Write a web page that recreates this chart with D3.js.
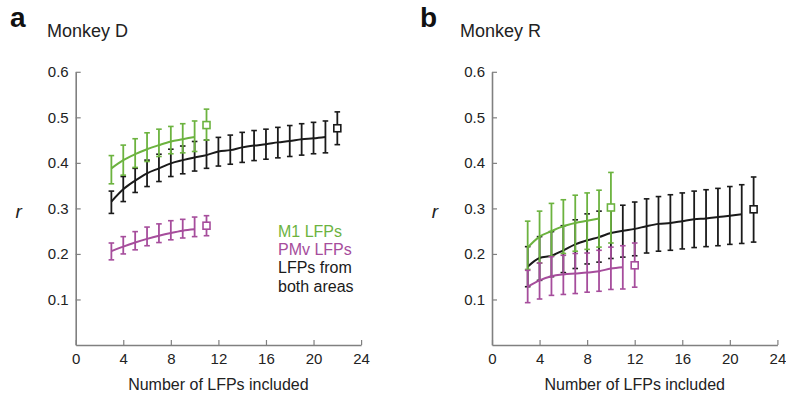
<!DOCTYPE html>
<html><head><meta charset="utf-8">
<script src="https://cdn.jsdelivr.net/npm/d3@7"></script>
<style>
body{margin:0;background:#fff;}
text{font-family:"Liberation Sans",Arial,sans-serif;}
</style></head>
<body><svg id="c" width="786" height="398"></svg>
<script>
// ---- data ----
const xTicks = [0,4,8,12,16,20,24];
const yTicks = [0.1,0.2,0.3,0.4,0.5,0.6];
const panelLetters = ["a","b"];
const panelTitles = ["Monkey D","Monkey R"];
const legendLabels = ["M1 LFPs","PMv LFPs","LFPs from","both areas"];

// Panel a (Monkey D)
const nBothA = [3,4,5,6,7,8,9,10,11,12,13,14,15,16,17,18,19,20,21];
const rBothA = [0.315,0.342,0.361,0.377,0.388,0.399,0.406,0.412,0.417,0.425,0.428,0.434,0.438,0.441,0.445,0.448,0.452,0.454,0.457];
const hiBothA = [0.338,0.370,0.388,0.406,0.419,0.430,0.437,0.447,0.450,0.456,0.461,0.467,0.471,0.474,0.478,0.482,0.486,0.489,0.492];
const loBothA = [0.289,0.315,0.335,0.348,0.359,0.370,0.376,0.382,0.388,0.393,0.397,0.401,0.405,0.408,0.411,0.414,0.417,0.420,0.422];
const sqBothA = {n:22, r:0.476, hi:0.512, lo:0.440};

const nM1A = [3,4,5,6,7,8,9,10];
const rM1A = [0.388,0.406,0.419,0.430,0.439,0.447,0.452,0.457];
const hiM1A = [0.416,0.439,0.453,0.466,0.474,0.480,0.486,0.492];
const loM1A = [0.354,0.373,0.390,0.403,0.414,0.420,0.422,0.425];
const sqM1A = {n:11, r:0.483, hi:0.518, lo:0.450};

const nPMvA = [3,4,5,6,7,8,9,10];
const rPMvA = [0.206,0.216,0.225,0.233,0.240,0.246,0.251,0.254];
const hiPMvA = [0.224,0.238,0.249,0.259,0.266,0.273,0.276,0.281];
const loPMvA = [0.187,0.200,0.209,0.218,0.225,0.231,0.235,0.238];
const sqPMvA = {n:11, r:0.262, hi:0.284, lo:0.240};

// Panel b (Monkey R)
const nBothB = [3,4,5,6,7,8,9,10,11,12,13,14,15,16,17,18,19,20,21];
const rBothB = [0.172,0.191,0.196,0.208,0.221,0.230,0.237,0.246,0.251,0.255,0.261,0.266,0.268,0.272,0.276,0.278,0.281,0.284,0.287];
const hiBothB = [0.216,0.238,0.249,0.262,0.275,0.288,0.294,0.302,0.307,0.314,0.321,0.326,0.330,0.334,0.338,0.341,0.344,0.348,0.352];
const loBothB = [0.128,0.142,0.150,0.159,0.168,0.178,0.182,0.190,0.193,0.196,0.202,0.206,0.208,0.211,0.214,0.216,0.218,0.221,0.223];
const sqBothB = {n:22, r:0.298, hi:0.369, lo:0.226};

const nM1B = [3,4,5,6,7,8,9];
const rM1B = [0.214,0.238,0.250,0.261,0.268,0.273,0.278];
const hiM1B = [0.272,0.294,0.311,0.319,0.329,0.334,0.340];
const loM1B = [0.166,0.180,0.195,0.201,0.206,0.210,0.215];
const sqM1B = {n:10, r:0.302, hi:0.379, lo:0.224};

const nPMvB = [3,4,5,6,7,8,9,10,11];
const rPMvB = [0.128,0.142,0.151,0.155,0.157,0.159,0.162,0.168,0.171];
const hiPMvB = [0.164,0.180,0.194,0.197,0.201,0.202,0.208,0.215,0.218];
const loPMvB = [0.093,0.101,0.109,0.111,0.113,0.116,0.118,0.122,0.123];
const sqPMvB = {n:12, r:0.175, hi:0.224, lo:0.127};

// ---- style ----
const GREEN = "#6cb33f", PURPLE = "#a64d9c", BLACK = "#1a1a1a", AXIS = "#808080";

const svg = d3.select("#c");

function series(n, r, hi, lo, sq, color){
  return {pts: n.map((v,i)=>({n:v, r:r[i], hi:hi[i], lo:lo[i]})), sq, color};
}

const panels = [
  {x0:75.7, letterX:10, titleX:47, sets:[
    series(nBothA,rBothA,hiBothA,loBothA,sqBothA,BLACK),
    series(nM1A,rM1A,hiM1A,loM1A,sqM1A,GREEN),
    series(nPMvA,rPMvA,hiPMvA,loPMvA,sqPMvA,PURPLE)], legend:true},
  {x0:492, letterX:420, titleX:460, sets:[
    series(nBothB,rBothB,hiBothB,loBothB,sqBothB,BLACK),
    series(nM1B,rM1B,hiM1B,loM1B,sqM1B,GREEN),
    series(nPMvB,rPMvB,hiPMvB,loPMvB,sqPMvB,PURPLE)], legend:false}
];

panels.forEach((p, pi) => {
  const x = d3.scaleLinear().domain([0,24]).range([p.x0, p.x0 + 285.4]);
  const y = d3.scaleLinear().domain([0,0.6]).range([345, 71.8]);
  const g = svg.append("g");

  // letter & title
  g.append("text").attr("x", p.letterX).attr("y", 27).attr("font-size", 28)
    .attr("font-weight", "bold").attr("fill", "#111").text(panelLetters[pi]);
  g.append("text").attr("x", p.titleX).attr("y", 37).attr("font-size", 18)
    .attr("fill", "#222").text(panelTitles[pi]);

  // axes
  const ya = g.append("g").attr("transform", `translate(${p.x0},0)`)
    .call(d3.axisLeft(y).tickValues(yTicks).tickFormat(d3.format(".1f"))
      .tickSizeInner(-5).tickSizeOuter(0).tickPadding(7));
  const xa = g.append("g").attr("transform", `translate(0,345)`)
    .call(d3.axisBottom(x).tickValues(xTicks).tickFormat(d3.format("d"))
      .tickSizeInner(-5).tickSizeOuter(0).tickPadding(8));
  [ya, xa].forEach(a => {
    a.select(".domain").attr("stroke", AXIS).attr("stroke-width", 1.6);
    a.selectAll(".tick line").attr("stroke", AXIS).attr("stroke-width", 1.2);
    a.selectAll(".tick text").attr("font-size", 15).attr("fill", "#222")
      .attr("font-family", "Liberation Sans, Arial, sans-serif");
  });

  // axis labels
  g.append("text").attr("x", p.x0 + 142.7).attr("y", 390).attr("text-anchor", "middle")
    .attr("font-size", 16).attr("fill", "#222").text("Number of LFPs included");
  g.append("text").attr("x", p.x0 - 57).attr("y", 218).attr("text-anchor", "middle")
    .attr("font-size", 19).attr("font-style", "italic").attr("fill", "#222").text("r");

  const line = d3.line().x(d => x(d.n)).y(d => y(d.r)).curve(d3.curveMonotoneX);
  const cap = 2.8;

  p.sets.forEach(s => {
    const sg = g.append("g");
    const all = s.pts.concat([s.sq]);
    // error bars
    all.forEach(d => {
      sg.append("line").attr("x1", x(d.n)).attr("x2", x(d.n))
        .attr("y1", y(d.lo)).attr("y2", y(d.hi))
        .attr("stroke", s.color).attr("stroke-width", 1.8);
      [d.lo, d.hi].forEach(v => sg.append("line")
        .attr("x1", x(d.n) - cap).attr("x2", x(d.n) + cap)
        .attr("y1", y(v)).attr("y2", y(v))
        .attr("stroke", s.color).attr("stroke-width", 1.6));
    });
    // mean line
    sg.append("path").datum(s.pts).attr("d", line).attr("fill", "none")
      .attr("stroke", s.color).attr("stroke-width", 2);
    // square marker
    const sz = 7;
    sg.append("rect").attr("x", x(s.sq.n) - sz/2).attr("y", y(s.sq.r) - sz/2)
      .attr("width", sz).attr("height", sz).attr("fill", "#fff")
      .attr("stroke", s.color).attr("stroke-width", 1.6);
  });

  if (p.legend) {
    const colors = [GREEN, PURPLE, BLACK, BLACK];
    legendLabels.forEach((t, i) => {
      g.append("text").attr("x", 278).attr("y", 237 + i * 18.2).attr("font-size", 16)
        .attr("fill", colors[i]).text(t);
    });
  }
});
</script></body></html>
